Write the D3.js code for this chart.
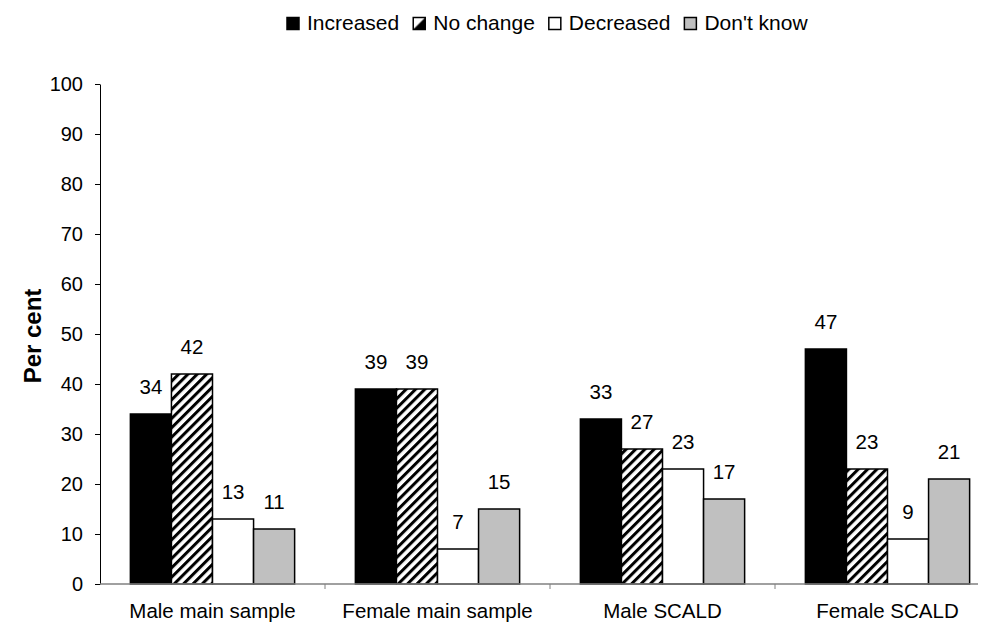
<!DOCTYPE html>
<html>
<head>
<meta charset="utf-8">
<script src="https://cdn.jsdelivr.net/npm/d3@7"></script>
<style>
  body { margin: 0; background: #fff; }
  svg { display: block; font-family: "Liberation Sans", Arial, sans-serif; }
</style>
</head>
<body>
<svg id="chart" width="987" height="623"></svg>
<script>
const categories = ["Male main sample", "Female main sample", "Male SCALD", "Female SCALD"];
const seriesNames = ["Increased", "No change", "Decreased", "Don't know"];
const increased = [34, 39, 33, 47];
const noChange = [42, 39, 27, 23];
const decreased = [13, 7, 23, 9];
const dontKnow = [11, 15, 17, 21];
const yTicks = [0, 10, 20, 30, 40, 50, 60, 70, 80, 90, 100];
const seriesValues = [increased, noChange, decreased, dontKnow];

const svg = d3.select("#chart");
const defs = svg.append("defs");
const pat = defs.append("pattern")
  .attr("id", "hatch").attr("patternUnits", "userSpaceOnUse")
  .attr("width", 6.6).attr("height", 6.6)
  .attr("patternTransform", "rotate(45)");
pat.append("rect").attr("width", 6.6).attr("height", 6.6).attr("fill", "#fff");
pat.append("rect").attr("x", 0).attr("y", 0).attr("width", 3).attr("height", 6.6).attr("fill", "#000");

const lp = defs.append("pattern").attr("id", "legHatch").attr("patternUnits", "objectBoundingBox")
  .attr("patternContentUnits", "objectBoundingBox").attr("width", 1).attr("height", 1);
lp.append("rect").attr("width", 1).attr("height", 1).attr("fill", "#fff");
lp.append("path").attr("d", "M0,1 L1,0 L1,1 Z").attr("fill", "#000");

const fills = ["#000000", "url(#hatch)", "#ffffff", "#c0c0c0"];

const x0 = d3.scaleBand().domain(categories).range([100, 1000])
  .paddingInner(0.27).paddingOuter(0.135);
const x1 = d3.scaleBand().domain(seriesNames).range([0, x0.bandwidth()]);
const y = d3.scaleLinear().domain([0, 100]).range([584, 84]);

// Y axis
const yAxis = d3.axisLeft(y).tickValues(yTicks).tickSize(5).tickPadding(12).tickSizeOuter(0);
const gy = svg.append("g").attr("transform", "translate(100,0)").call(yAxis);
gy.select(".domain").attr("stroke", "#000");
gy.selectAll(".tick line").attr("stroke", "#000");
gy.selectAll(".tick text").attr("font-size", "20px").attr("fill", "#000")
  .attr("font-family", "'Liberation Sans', Arial, sans-serif");

// Bars
const data = [];
categories.forEach((c, i) => seriesNames.forEach((s, j) => data.push({c, s, j, v: seriesValues[j][i]})));

svg.append("g").selectAll("rect").data(data).join("rect")
  .attr("x", d => x0(d.c) + x1(d.s))
  .attr("y", d => y(d.v))
  .attr("width", x1.bandwidth())
  .attr("height", d => y(0) - y(d.v))
  .attr("fill", d => fills[d.j])
  .attr("stroke", "#000").attr("stroke-width", 1.5);

// X axis
const gx = svg.append("g").attr("transform", "translate(0,584)");
gx.append("line").attr("x1", 100).attr("x2", 978).attr("y1", 0).attr("y2", 0)
  .attr("stroke", "#808080").attr("stroke-width", 1.5);
const boundaries = categories.slice(1).map(c => x0(c) - x0.step() * x0.paddingInner() / 2);
gx.selectAll("line.tk").data(boundaries).join("line").attr("class", "tk")
  .attr("x1", d => d).attr("x2", d => d).attr("y1", 0).attr("y2", 5)
  .attr("stroke", "#808080").attr("stroke-width", 1);
gx.selectAll("text").data(categories).join("text")
  .attr("x", d => x0(d) + x0.bandwidth() / 2)
  .attr("y", 34)
  .attr("text-anchor", "middle").attr("font-size", "20.5px").text(d => d);

// Value labels
svg.append("g").selectAll("text").data(data).join("text")
  .attr("x", d => x0(d.c) + x1(d.s) + x1.bandwidth() / 2)
  .attr("y", d => y(d.v) - 20)
  .attr("text-anchor", "middle").attr("font-size", "20.5px").text(d => d.v);

// Y title
svg.append("text").attr("transform", "translate(41,336) rotate(-90)")
  .attr("text-anchor", "middle").attr("font-size", "24px").attr("font-weight", "bold")
  .text("Per cent");

// Legend
const legend = svg.append("g").attr("transform", "translate(287,0)");
let lx = 0;
seriesNames.forEach((s, j) => {
  const g = legend.append("g").attr("transform", `translate(${lx},0)`);
  g.append("rect").attr("x", 0).attr("y", 17.5).attr("width", 12).attr("height", 12)
    .attr("fill", j === 1 ? "url(#legHatch)" : fills[j]).attr("stroke", "#000").attr("stroke-width", 1.5);
  const t = g.append("text").attr("x", 20).attr("y", 30).attr("font-size", "21px").text(s);
  lx += 20 + t.node().getComputedTextLength() + 14;
});
</script>
</body>
</html>
